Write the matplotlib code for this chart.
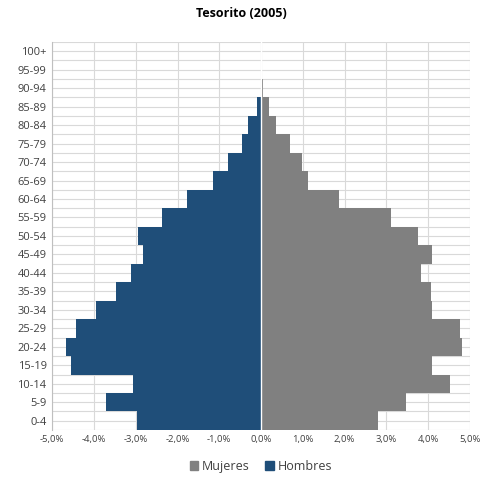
import matplotlib.pyplot as plt
import numpy as np
from matplotlib.patches import Patch

plt.rcParams["font.family"] = ["Open Sans", "DejaVu Sans"]

age_groups = ["0-4", "5-9", "10-14", "15-19", "20-24", "25-29", "30-34", "35-39",
              "40-44", "45-49", "50-54", "55-59", "60-64", "65-69", "70-74",
              "75-79", "80-84", "85-89", "90-94", "95-99", "100+"]
hombres = [2.96, 3.70, 3.06, 4.54, 4.68, 4.42, 3.94, 3.47, 3.11, 2.83, 2.94,
           2.36, 1.77, 1.15, 0.79, 0.45, 0.31, 0.10, 0.0, 0.0, 0.0]
mujeres = [2.79, 3.48, 4.53, 4.10, 4.82, 4.75, 4.10, 4.06, 3.82, 4.10, 3.75,
           3.10, 1.86, 1.12, 0.97, 0.69, 0.36, 0.18, 0.05, 0.0, 0.0]
x_ticks = [-5, -4, -3, -2, -1, 0, 1, 2, 3, 4, 5]

blue = "#1f4e79"
grey = "#808080"

fig = plt.figure(figsize=(4.83, 4.82), dpi=100)
ax = fig.add_axes([0.108, 0.108, 0.865, 0.805])

y = np.arange(len(age_groups))
ax.barh(y, -np.array(hombres), height=1.0, color=blue, zorder=3)
ax.barh(y, mujeres, height=1.0, color=grey, zorder=3)
ax.axvline(0, color="white", lw=1.0, zorder=4)

ax.set_xlim(-5, 5)
ax.set_ylim(-0.5, len(age_groups) - 0.5)
ax.set_yticks(y)
ax.set_yticklabels(age_groups, fontsize=8, color="#404040")
ax.set_yticks(np.arange(-0.5, len(age_groups), 1.0), minor=True)
ax.set_xticks(x_ticks)
ax.set_xticklabels([f"{v:.1f}%".replace(".", ",") for v in x_ticks],
                   fontsize=6.8, color="#404040")
ax.tick_params(axis="both", which="both", length=0, pad=4)
ax.grid(True, which="both", color="#d9d9d9", lw=0.8, zorder=0)
for s in ["top", "right", "bottom"]:
    ax.spines[s].set_visible(False)
ax.spines["left"].set_color("#bfbfbf")

fig.suptitle("Tesorito (2005)", fontsize=9, fontweight="bold", y=0.985)

handles = [Patch(color=grey, label="Mujeres"), Patch(color=blue, label="Hombres")]
fig.legend(handles=handles, loc="center", bbox_to_anchor=(0.54, 0.032), ncol=2,
           frameon=False, fontsize=9, handlelength=0.7, handleheight=0.7,
           handletextpad=0.3, columnspacing=1.2, labelcolor="#404040")

fig.savefig("out.png", dpi=100)
